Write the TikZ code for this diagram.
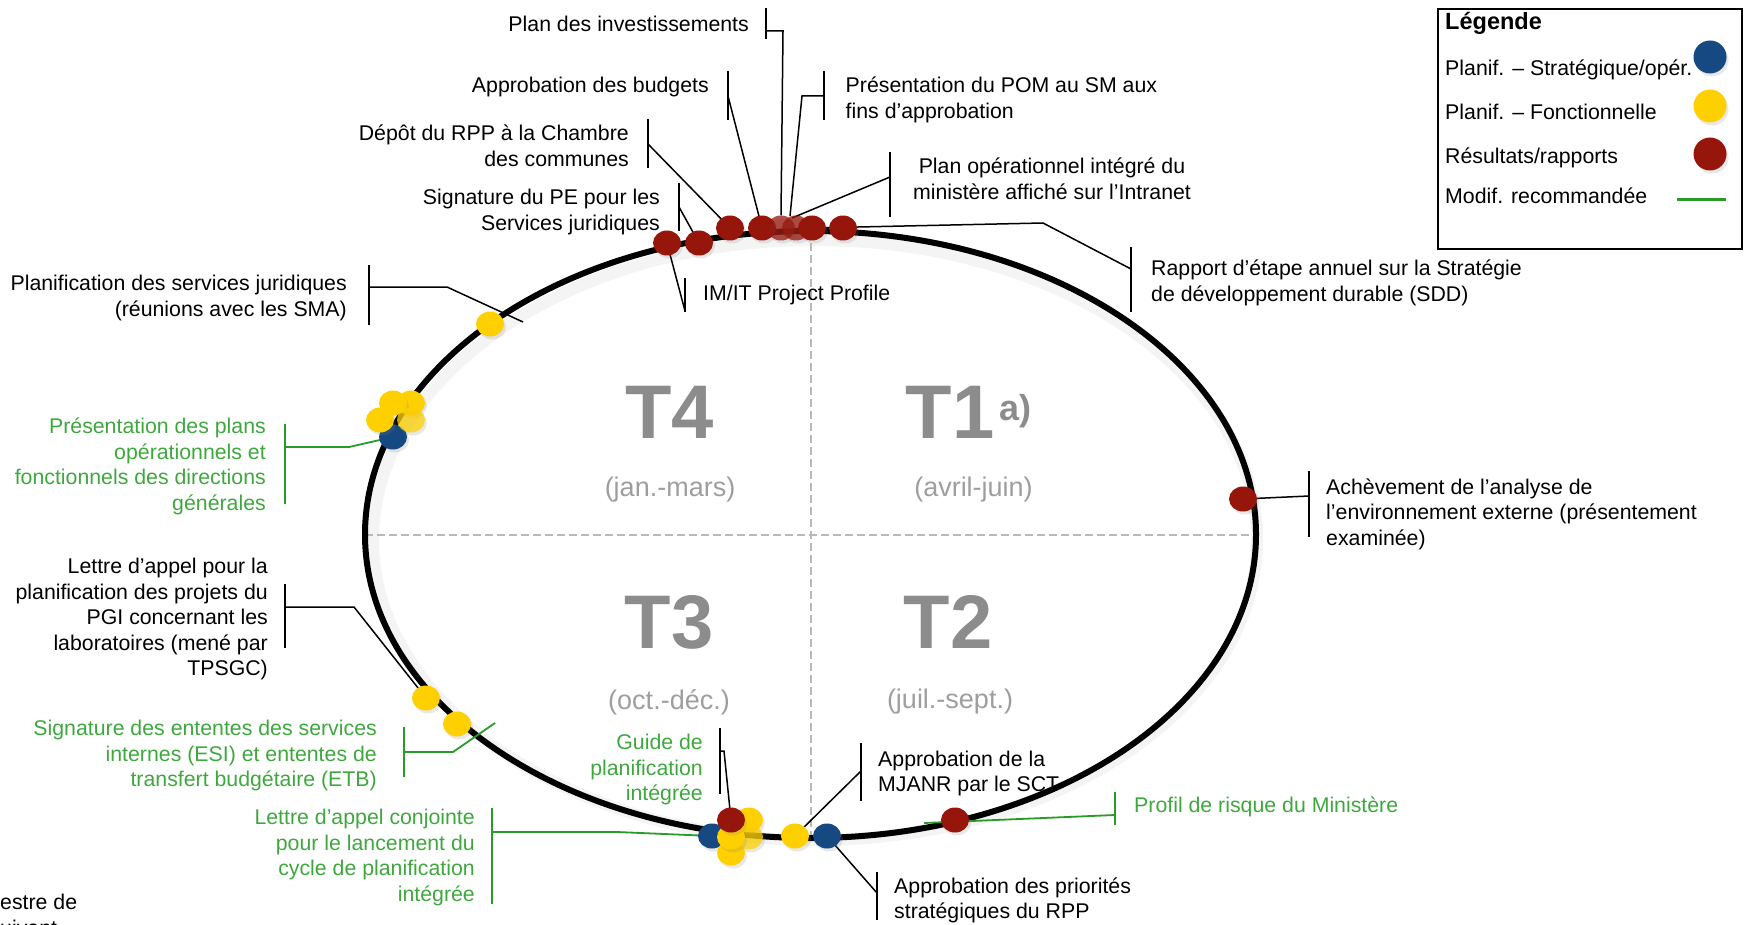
\documentclass[tikz,border=0pt]{standalone}
\usepackage{fontspec}
\setmainfont{Liberation Sans}
\usetikzlibrary{shapes.geometric,shadows}
\pgfdeclarelayer{bg}
\pgfdeclarelayer{mid}
\pgfsetlayers{bg,mid,main}
\definecolor{tgreen}{RGB}{62,168,62}
\definecolor{lgreen}{RGB}{40,155,40}
\definecolor{dred}{RGB}{150,22,12}
\definecolor{dblue}{RGB}{22,72,130}
\definecolor{dyellow}{RGB}{255,208,0}
\definecolor{qgray}{RGB}{140,140,140}
\definecolor{sgray}{RGB}{158,158,158}
\definecolor{dgray}{RGB}{185,185,185}
\tikzset{
 lbl/.style={font=\fontsize{21.3pt}{25.6pt}\selectfont, inner sep=0pt},
 lr/.style={lbl, align=right, anchor=base east},
 ll/.style={lbl, align=left, anchor=base west},
 lc/.style={lbl, align=center, anchor=base},
 conn/.style={line width=1.5pt, black},
 gconn/.style={line width=1.8pt, lgreen},
 brk/.style={line width=1.8pt, black},
 gbrk/.style={line width=1.8pt, lgreen},
 dotb/.style={ellipse, minimum width=28pt, minimum height=25pt, inner sep=0pt, draw=none,
   drop shadow={shadow xshift=2pt, shadow yshift=-3pt, opacity=0.18}},
 rdot/.style={dotb, fill=dred},
 ydot/.style={dotb, fill=dyellow},
 bdot/.style={dotb, fill=dblue},
 faded/.style={fill opacity=0.75},
 legdot/.style={minimum width=33pt, minimum height=33pt},
 qlab/.style={font=\fontsize{76pt}{80pt}\selectfont\bfseries, text=qgray, inner sep=0pt},
 qsub/.style={font=\fontsize{27pt}{30pt}\selectfont, text=sgray, inner sep=0pt},
 dashline/.style={dgray, line width=2pt, dash pattern=on 8pt off 4pt},
}
\begin{document}
\begin{tikzpicture}[x=1pt,y=-1pt]
\useasboundingbox (0,0) rectangle (1752,925);

% ---------- cycle ----------
\begin{pgfonlayer}{bg}
\draw[line width=12pt, black, opacity=0.045] (815,540) ellipse [x radius=442, y radius=300];
\node[ellipse, minimum width=891pt, minimum height=607pt, inner sep=0pt] (cyc) at (810.5,534.5) {};
\draw[dashline] (cyc.north) -- (cyc.south);
\draw[dashline] (cyc.west) -- (cyc.east);
\draw[line width=6pt, black] (810.5,534.5) ellipse [x radius=445.5, y radius=303.5];
\end{pgfonlayer}

% ---------- quarter labels ----------
\node[qlab] (q4) at (669.5,412) {T4};
\node[qlab] (q1) at (950,412) {T1};
\node[font=\fontsize{36pt}{40pt}\selectfont\bfseries, text=qgray, inner sep=0pt, anchor=base west] (q1a) at (999,420) {a)};
\node[qlab] (q3) at (669,622) {T3};
\node[qlab] (q2) at (948,622) {T2};
\node[qsub] (s4) at (670,490) {(jan.-mars)};
\node[qsub] (s1) at (973.5,490) {(avril-juin)};
\node[qsub] (s3) at (669,702) {(oct.-déc.)};
\node[qsub] (s2) at (950,702) {(juil.-sept.)};

% ---------- dots ----------
\node[rdot] (r1) at (667,243) {};
\node[rdot] (r2) at (699,243) {};
\node[rdot] (r3) at (730,228) {};
\node[rdot] (r4) at (762,228) {};
\node[rdot, faded] (r5) at (781,228) {};
\node[rdot, faded] (r6) at (796,228) {};
\node[rdot] (r7) at (812,228) {};
\node[rdot] (r8) at (843,228) {};

\node[ydot] (yj) at (490,324) {};
\node[bdot] (bl) at (393,437) {};
\node[ydot] (ya) at (411,403) {};
\node[ydot] (yb) at (393,403) {};
\node[ydot, faded] (yc) at (411,420) {};
\node[ydot] (yd) at (380,420) {};

\node[ydot] (ye) at (426,698) {};
\node[ydot] (yf) at (457,724) {};

\node[bdot] (bb1) at (712,836) {};
\node[ydot] (yg) at (749,820) {};
\node[ydot, faded] (yh) at (749,837) {};
\node[ydot] (yi) at (731,853) {};
\node[ydot] (yk) at (731,837) {};
\node[rdot] (rb) at (731,820) {};
\node[ydot] (yl) at (795,836) {};
\node[bdot] (bb2) at (827,836) {};

\node[rdot] (rr) at (1243,499) {};
\node[rdot] (rp) at (955,820) {};

% ---------- labels (base = baseline of the last line) ----------
\node[lr] (tInv) at (749,31.5) {Plan des investissements};
\node[lr] (tBud) at (709,92.5) {Approbation des budgets};
\node[ll] (tPOM) at (845.5,118.1) {Présentation du POM au SM aux\\fins d’approbation};
\node[lr] (tDep) at (629,166.1) {Dépôt du RPP à la Chambre\\des communes};
\node[lc] (tOp) at (1052,199.1) {Plan opérationnel intégré du\\ministère affiché sur l’Intranet};
\node[lr] (tPE) at (660,230.1) {Signature du PE pour les\\Services juridiques};
\node[ll] (tRap) at (1151,301.1) {Rapport d’étape annuel sur la Stratégie\\de développement durable (SDD)};
\node[ll] (tIM) at (703,300.5) {IM/IT Project Profile};
\node[lr] (tJur) at (347,316.1) {Planification des services juridiques\\(réunions avec les SMA)};
\node[lr, text=tgreen] (tPres) at (266,510.3) {Présentation des plans\\opérationnels et\\fonctionnels des directions\\générales};
\node[ll] (tAch) at (1326,545.2) {Achèvement de l’analyse de\\l’environnement externe (présentement\\examinée)};
\node[lr] (tPGI) at (268,675.9) {Lettre d'appel pour la\\planification des projets du\\PGI concernant les\\laboratoires (mené par\\TPSGC)};
\node[lr, text=tgreen] (tESI) at (377,786.7) {Signature des ententes des services\\internes (ESI) et ententes de\\transfert budgétaire (ETB)};
\node[lr, text=tgreen] (tGuide) at (703,800.7) {Guide de\\planification\\intégrée};
\node[ll] (tMJ) at (878,791.6) {Approbation de la\\MJANR par le SCT};
\node[ll, text=tgreen] (tProf) at (1134,812) {Profil de risque du Ministère};
\node[lr, text=tgreen] (tConj) at (475,901.3) {Lettre d’appel conjointe\\pour le lancement du\\cycle de planification\\intégrée};
\node[ll] (tPrio) at (894,918.6) {Approbation des priorités\\stratégiques du RPP};
\node[ll] (tNote) at (0,935.1) {estre de\\uivant};

% ---------- legend ----------
\node[draw, line width=2pt, minimum width=304pt, minimum height=240pt, anchor=north west, inner sep=0pt] (leg) at (1437,8) {};
\node[ll, font=\fontsize{23.5pt}{26pt}\selectfont\bfseries] (legT) at (1445,29.5) {Légende};
\node[ll] (leg1) at (1445,76) {Planif. – Stratégique/opér.};
\node[ll] (leg2) at (1445,120) {Planif. – Fonctionnelle};
\node[ll] (leg3) at (1445,164) {Résultats/rapports};
\node[ll] (leg4) at (1445,204) {Modif. recommandée};
\node[bdot, legdot] (lb) at (1710,57) {};
\node[ydot, legdot] (ly) at (1710,106) {};
\node[rdot, legdot] (lrd) at (1710,154) {};
\coordinate (lgA) at (1677,200);
\coordinate (lgB) at (1726,200);
\draw[lgreen, line width=3pt] (lgA) -- (lgB);

% ---------- brackets and connectors ----------
\coordinate (kInv) at (766,31);
\coordinate (kBud) at (728,96);
\coordinate (kPOM) at (824,96);
\coordinate (ePOM) at (790,216);
\coordinate (kDep) at (648,144);
\coordinate (kPE) at (679,207);
\coordinate (kIM) at (685,311);
\coordinate (kOp) at (890,177);
\coordinate (eOp) at (792,218);
\coordinate (kRap) at (1131,269);
\coordinate (kJur) at (369,287);
\coordinate (eJur) at (523,322);
\coordinate (kPres) at (285,447);
\coordinate (kPGI) at (285,607);
\coordinate (kESI) at (404,752);
\coordinate (eESI) at (495,723);
\coordinate (kConj) at (492,832);
\coordinate (kGuide) at (720,751);
\coordinate (kAch) at (1309,496);
\coordinate (kProf) at (1115,815);
\coordinate (eProf) at (924,823);
\coordinate (kMJ) at (861,771);
\coordinate (kPrio) at (877,893);

\begin{pgfonlayer}{mid}
% brackets
\draw[brk] (kInv) ++(0,-23) -- ++(0,31);
\draw[brk] (kBud) ++(0,-25) -- ++(0,49);
\draw[brk] (kPOM) ++(0,-25) -- ++(0,49);
\draw[brk] (kDep) ++(0,-25) -- ++(0,49);
\draw[brk] (kPE) ++(0,-24) -- ++(0,48);
\draw[brk] (kIM) ++(0,-33) -- ++(0,34);
\draw[brk] (kOp) ++(0,-25) -- ++(0,65);
\draw[brk] (kRap) ++(0,-22) -- ++(0,65);
\draw[brk] (kJur) ++(0,-22) -- ++(0,60);
\draw[gbrk] (kPres) ++(0,-23) -- ++(0,80);
\draw[brk] (kPGI) ++(0,-23) -- ++(0,64);
\draw[gbrk] (kESI) ++(0,-25) -- ++(0,50);
\draw[gbrk] (kConj) ++(0,-24) -- ++(0,96);
\draw[brk] (kGuide) ++(0,-23) -- ++(0,66);
\draw[brk] (kAch) ++(0,-25) -- ++(0,66);
\draw[gbrk] (kProf) ++(0,-23) -- ++(0,33);
\draw[brk] (kMJ) ++(0,-28) -- ++(0,58);
\draw[brk] (kPrio) ++(0,-21) -- ++(0,48);
% connectors
\draw[conn] (kInv) -- ++(17,0) -- (r5.north);
\draw[conn] (kBud) -- (r4.center);
\draw[conn] (kPOM) -- ++(-22,0) -- (ePOM);
\draw[conn] (kDep) -- (r3.center);
\draw[conn] (kPE) -- (r2.center);
\draw[conn] (r1.center) -- (kIM);
\draw[conn] (kOp) -- (eOp);
\draw[conn] (r7.center) -- (1043,223) -- (kRap);
\draw[conn] (kJur) -- ++(78,0) -- (eJur);
\draw[gconn] (kPres) -- ++(64,0) -- (bl.center);
\draw[conn] (kPGI) -- ++(69,0) -- (ye.center);
\draw[gconn] (kESI) -- ++(49,0) -- (eESI);
\draw[gconn] (kConj) -- ++(125,0) -- (bb1.center);
\draw[conn] (kGuide) -- ++(4,0) -- (rb.center);
\draw[conn] (rr.center) -- (kAch);
\draw[gconn] (kProf) -- (eProf);
\draw[conn] (kMJ) -- (yl.center);
\draw[conn] (bb2.center) -- (kPrio);
\end{pgfonlayer}
\end{tikzpicture}
\end{document}
